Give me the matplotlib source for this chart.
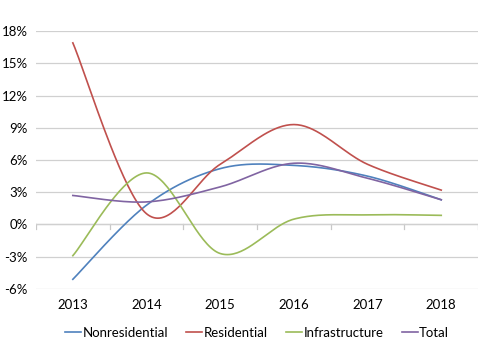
import numpy as np
import matplotlib
matplotlib.use("Agg")
import matplotlib.pyplot as plt

plt.rcParams['font.family'] = ['Lato', 'DejaVu Sans']

years = ['2013', '2014', '2015', '2016', '2017', '2018']
nonresidential = [-5.1, 1.8, 5.2, 5.5, 4.5, 2.3]
residential = [16.9, 1.0, 5.6, 9.3, 5.6, 3.2]
infrastructure = [-2.9, 4.8, -2.7, 0.5, 0.9, 0.85]
total = [2.7, 2.1, 3.5, 5.7, 4.3, 2.3]
yticks = [-6, -3, 0, 3, 6, 9, 12, 15, 18]

colors = ['#4F81BD', '#C0504D', '#9BBB59', '#8064A2']


def smooth(xs, ys, n=40):
    # excel style bezier smoothing (catmull-rom control points)
    xs = np.asarray(xs, float)
    ys = np.asarray(ys, float)
    pts = np.column_stack([xs, ys])
    out = []
    for i in range(len(pts) - 1):
        p0 = pts[max(i - 1, 0)]
        p1 = pts[i]
        p2 = pts[i + 1]
        p3 = pts[min(i + 2, len(pts) - 1)]
        c1 = p1 + (p2 - p0) / 6
        c2 = p2 - (p3 - p1) / 6
        t = np.linspace(0, 1, n)[:, None]
        seg = ((1 - t) ** 3) * p1 + 3 * ((1 - t) ** 2) * t * c1 + 3 * (1 - t) * t ** 2 * c2 + t ** 3 * p2
        out.append(seg if i == 0 else seg[1:])
    out = np.vstack(out)
    return out[:, 0], out[:, 1]


fig = plt.figure(figsize=(4.8, 3.49), dpi=100)
ax = fig.add_axes([0.075, 0.172, 0.921, 0.739])

x = np.arange(len(years))
series = [('Nonresidential', nonresidential), ('Residential', residential),
          ('Infrastructure', infrastructure), ('Total', total)]
for (name, vals), c in zip(series, colors):
    sx, sy = smooth(x, vals)
    ax.plot(sx, sy, color=c, lw=1.2, label=name)

ax.set_xlim(-0.5, len(years) - 0.5)
ax.set_ylim(-6, 18)
ax.set_yticks(yticks)
ax.set_yticklabels([f'{v}%' for v in yticks], fontsize=9.5)
ax.yaxis.grid(True, color='#D0D0D0', lw=0.9)
ax.set_axisbelow(True)
for s in ax.spines.values():
    s.set_visible(False)
ax.tick_params(axis='y', length=0, pad=6)
ax.set_xticks(x)
ax.set_xticklabels(years, fontsize=9.5)
ax.tick_params(axis='x', length=0, pad=7)

# category axis crosses at 0% with tick marks between categories
ax.axhline(0, color='#C8C8C8', lw=0.9, zorder=0)
for b in np.arange(-0.5, len(years), 1.0):
    ax.plot([b, b], [0, -0.45], color='#C8C8C8', lw=0.9, zorder=0)

ax.legend(loc='upper center', bbox_to_anchor=(0.5, -0.1), ncol=4, frameon=False,
          fontsize=9.5, handlelength=1.2, handletextpad=0.1, columnspacing=1.4)

fig.savefig('out.png', dpi=100)
